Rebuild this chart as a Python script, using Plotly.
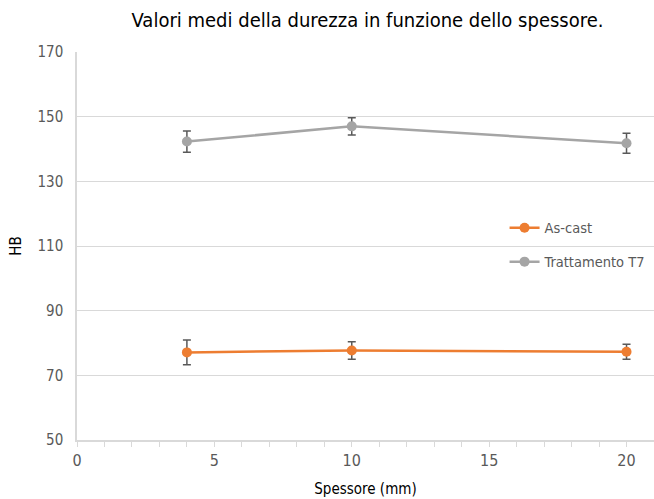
import plotly.graph_objects as go

spessore = [4, 10, 20]
as_cast = [77.1, 77.7, 77.3]
as_cast_err = [3.8, 2.7, 2.3]
t7 = [142.3, 147.0, 141.8]
t7_err = [3.3, 2.7, 3.1]

FONT = "DejaVu Sans Condensed, Liberation Sans Narrow, Arial Narrow, sans-serif"

fig = go.Figure()
fig.add_trace(go.Scatter(
    x=spessore, y=as_cast, name="As-cast", mode="lines+markers",
    line=dict(color="#ED7D31", width=2.5), marker=dict(size=10, color="#ED7D31"),
    error_y=dict(type="data", array=as_cast_err, color="#595959", thickness=1.5, width=4),
    legendgroup="a"))
fig.add_trace(go.Scatter(
    x=spessore, y=t7, name="Trattamento T7", mode="lines+markers",
    line=dict(color="#A5A5A5", width=2.5), marker=dict(size=10, color="#A5A5A5"),
    error_y=dict(type="data", array=t7_err, color="#595959", thickness=1.5, width=4),
    legendgroup="b"))

fig.update_layout(
    width=654, height=499,
    margin=dict(l=77, r=0, t=52, b=59),
    paper_bgcolor="white", plot_bgcolor="white",
    font=dict(family=FONT, color="#595959", size=15),
    title=dict(text="Valori medi della durezza in funzione dello spessore.",
               x=0.562, xanchor="center", y=0.96, yanchor="middle",
               font=dict(size=20, color="#000000", family=FONT)),
    xaxis=dict(range=[0, 21], tickvals=[0, 5, 10, 15, 20], showgrid=False,
               showline=True, linecolor="#D9D9D9", linewidth=1.5,
               ticks="outside", ticklen=5, tickcolor="#D9D9D9",
               minor=dict(dtick=1, ticks="outside", ticklen=5, tickcolor="#D9D9D9", showgrid=False),
               zeroline=False,
               title=dict(text="Spessore (mm)", font=dict(size=15, color="#000000"), standoff=15),
               tickfont=dict(size=16, color="#595959")),
    yaxis=dict(range=[50, 170], dtick=20, tick0=50, showgrid=True, gridcolor="#D9D9D9",
               gridwidth=1, showline=True, linecolor="#D9D9D9", linewidth=1.5,
               zeroline=False, ticks="", ticklabelstandoff=9,
               title=dict(text="HB", font=dict(size=15, color="#000000"), standoff=12),
               tickfont=dict(size=15, color="#595959")),
    legend=dict(x=0.741, xanchor="left", y=0.588, yanchor="top",
                bgcolor="rgba(0,0,0,0)", tracegroupgap=12,
                traceorder="grouped",
                font=dict(size=14.5, color="#595959")),
)

fig.write_html("out.html")
